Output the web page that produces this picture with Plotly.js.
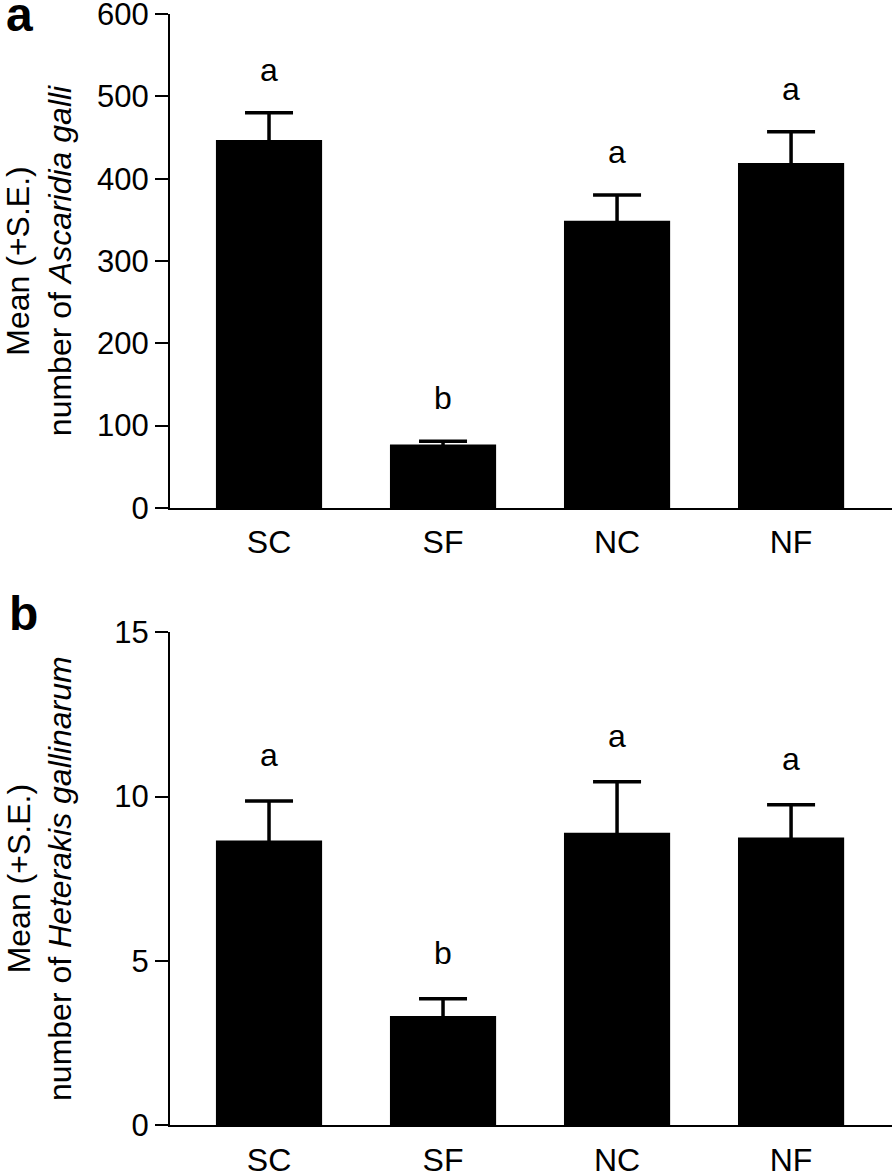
<!DOCTYPE html>
<html>
<head>
<meta charset="utf-8">
<script src="https://cdn.plot.ly/plotly-3.0.1.min.js"></script>
<style>
html,body{margin:0;padding:0;background:#fff;}
#chart{width:894px;height:1175px;}
</style>
</head>
<body>
<div id="chart"></div>
<script>
// ---- data ----
const groups = ['SC', 'SF', 'NC', 'NF'];
const ascaridiaMean = [447, 77, 349, 419];
const ascaridiaSE = [33, 4, 31, 38];
const ascaridiaLetters = ['a', 'b', 'a', 'a'];
const heterakisMean = [8.66, 3.32, 8.90, 8.75];
const heterakisSE = [1.20, 0.52, 1.55, 1.00];
const heterakisLetters = ['a', 'b', 'a', 'a'];
const ascaridiaTicks = [0, 100, 200, 300, 400, 500, 600];
const heterakisTicks = [0, 5, 10, 15];

const FONT = 'Liberation Sans, Arial, Helvetica, sans-serif';

function barTrace(means, se, xa, ya) {
  return {
    type: 'bar', x: groups, y: means, xaxis: xa, yaxis: ya,
    width: 0.61,
    marker: {color: '#000000', line: {width: 0}},
    error_y: {type: 'data', symmetric: true, array: se,
              color: '#000000', thickness: 3.5, width: 24, visible: true},
    hoverinfo: 'skip', showlegend: false
  };
}

const annotations = [];
function letterAnn(means, se, letters, xa, ya, shift) {
  groups.forEach((g, i) => {
    annotations.push({
      x: g, y: means[i] + se[i], xref: xa, yref: ya,
      text: letters[i], showarrow: false,
      xanchor: 'center', yanchor: 'bottom', yshift: shift,
      font: {family: FONT, size: 32, color: '#000'}
    });
  });
}
letterAnn(ascaridiaMean, ascaridiaSE, ascaridiaLetters, 'x', 'y', 23);
letterAnn(heterakisMean, heterakisSE, heterakisLetters, 'x2', 'y2', 26);

annotations.push({text: '<b>a</b>', xref: 'paper', yref: 'paper', x: -0.2078, y: 1.0,
  xanchor: 'center', yanchor: 'middle', showarrow: false,
  font: {family: FONT, size: 48, color: '#000'}});
annotations.push({text: '<b>b</b>', xref: 'paper', yref: 'paper', x: -0.2036, y: 0.460,
  xanchor: 'center', yanchor: 'middle', showarrow: false,
  font: {family: FONT, size: 48, color: '#000'}});

const xcommon = {
  type: 'category', range: [-0.569, 3.58],
  showline: true, linecolor: '#000', linewidth: 2,
  ticks: '', showgrid: false, zeroline: false, fixedrange: true,
  tickfont: {family: FONT, size: 32, color: '#000'}
};
const ycommon = {
  showline: true, linecolor: '#000', linewidth: 2,
  ticks: 'outside', ticklen: 13, tickwidth: 2, tickcolor: '#000',
  showgrid: false, zeroline: false, fixedrange: true,
  tickfont: {family: FONT, size: 31, color: '#000'},
  ticklabeloverflow: 'allow',
  tickmode: 'array'
};

const layout = {
  width: 894, height: 1175,
  margin: {l: 170, r: 2, t: 14, b: 50},
  paper_bgcolor: '#fff', plot_bgcolor: '#fff',
  font: {family: FONT, color: '#000'},
  xaxis: Object.assign({}, xcommon, {domain: [0, 1], anchor: 'y', ticklabelstandoff: 5}),
  xaxis2: Object.assign({}, xcommon, {domain: [0, 1], anchor: 'y2', ticklabelstandoff: 6}),
  yaxis: Object.assign({}, ycommon, {
    domain: [0.5554, 1], range: [0, 600], anchor: 'x',
    tickvals: ascaridiaTicks, ticktext: ascaridiaTicks.map(String),
    title: {text: 'Mean (+S.E.)<br>number of <i>Ascaridia galli</i>',
            font: {family: FONT, size: 32, color: '#000'}, standoff: 16}
  }),
  yaxis2: Object.assign({}, ycommon, {
    domain: [0, 0.4435], range: [0, 15], anchor: 'x2',
    tickvals: heterakisTicks, ticktext: heterakisTicks.map(String),
    title: {text: 'Mean (+S.E.)<br>number of <i>Heterakis gallinarum</i>',
            font: {family: FONT, size: 32, color: '#000'}, standoff: 33}
  }),
  annotations: annotations
};

Plotly.newPlot('chart', [
  barTrace(ascaridiaMean, ascaridiaSE, 'x', 'y'),
  barTrace(heterakisMean, heterakisSE, 'x2', 'y2')
], layout, {staticPlot: true, displayModeBar: false});
</script>
</body>
</html>
